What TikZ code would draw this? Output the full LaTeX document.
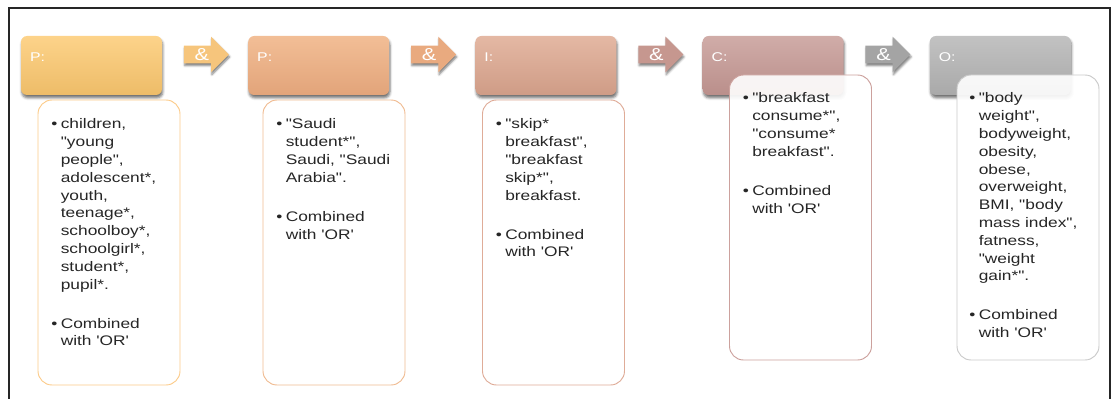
\documentclass[tikz,border=0pt]{standalone}
\usepackage{fontspec}
\newfontfamily\arialf[FakeStretch=1.25]{Liberation Sans}
\usetikzlibrary{positioning,shapes.arrows,shadows.blur}

\definecolor{pAtop}{HTML}{FDD38A}\definecolor{pAbot}{HTML}{EDBC68}
\definecolor{pBtop}{HTML}{F2BE96}\definecolor{pBbot}{HTML}{E2A47A}
\definecolor{iTop}{HTML}{E4B8A4}\definecolor{iBot}{HTML}{CF9C86}
\definecolor{cTop}{HTML}{D0ACA8}\definecolor{cBot}{HTML}{BA8F8B}
\definecolor{oTop}{HTML}{C2C2C2}\definecolor{oBot}{HTML}{A9A9A9}
\definecolor{ampA}{HTML}{F6C57C}\definecolor{ampB}{HTML}{E9AA7F}
\definecolor{ampC}{HTML}{C6978F}\definecolor{ampD}{HTML}{A4A4A4}
\definecolor{lineA}{HTML}{FCCB89}\definecolor{lineB}{HTML}{F0BB91}
\definecolor{lineC}{HTML}{DFAC98}\definecolor{lineD}{HTML}{CCA19D}
\definecolor{lineE}{HTML}{CACACA}
\definecolor{frame}{HTML}{262626}

\begin{document}
\begin{tikzpicture}[x=0.75pt, y=-0.75pt,
    hdr/.style={rectangle, rounded corners=4.5pt, minimum width=105.75pt, minimum height=44.25pt,
      inner xsep=6.75pt, inner ysep=0pt, text width=92.25pt, align=left, text height=7pt, text depth=13.5pt,
      text=white, font=\arialf\fontsize{9.5pt}{11pt}\selectfont,
      blur shadow={shadow xshift=0.6pt, shadow yshift=-2.2pt, shadow blur radius=1.8pt, shadow opacity=55}},
    amp/.style={single arrow, single arrow head extend=6.75pt, minimum height=33.75pt,
      inner xsep=2pt, inner ysep=1.4pt, text height=9.5pt, text depth=0.5pt,
      text=white, font=\arialf\fontsize{13pt}{14pt}\selectfont,
      blur shadow={shadow xshift=0.6pt, shadow yshift=-1.8pt, shadow blur radius=1.5pt, shadow opacity=50}},
    listbox/.style={rectangle, rounded corners=10.5pt, draw, line width=0.7pt, fill=white,
      minimum width=106.5pt, minimum height=213.75pt},
    listtext/.style={anchor=north west, inner sep=0pt, align=left, text=black!85,
      font=\arialf\fontsize{10.4pt}{13.35pt}\selectfont}]
  \useasboundingbox (0,0) rectangle (1114,399);
  \draw[line width=1.1pt, frame] (9,399) -- (9,8) -- (1110,8) -- (1110,399);

  \node[hdr, top color=pAtop, bottom color=pAbot] (p1) at (91.5,65.5) {P:};
  \node[hdr, top color=pBtop, bottom color=pBbot] (p2) [right=64.25pt of p1] {P:};
  \node[hdr, top color=iTop, bottom color=iBot] (int) [right=64.25pt of p2] {I:};
  \node[hdr, top color=cTop, bottom color=cBot] (comp) [right=64.25pt of int] {C:};
  \node[hdr, top color=oTop, bottom color=oBot] (out) [right=64.25pt of comp] {O:};

  \node[amp, fill=ampA] (and1) [right=16pt of p1, yshift=8.25pt] {\&};
  \node[amp, fill=ampB] (and2) [right=16pt of p2, yshift=8.25pt] {\&};
  \node[amp, fill=ampC] (and3) [right=16pt of int, yshift=8.25pt] {\&};
  \node[amp, fill=ampD] (and4) [right=16pt of comp, yshift=8.25pt] {\&};

  \node[listbox, draw=lineA] (b1) at (109,242.5) {};
  \node[listbox, draw=lineB] (b2) at (334,242.5) {};
  \node[listbox, draw=lineC] (b3) at (553.5,242.5) {};
  \node[listbox, draw=lineD, fill opacity=0.9] (b4) at (800.5,217.5) {};
  \node[listbox, draw=lineE, fill opacity=0.9] (b5) at (1028,217.5) {};

  \node[listtext] (t1) at ([xshift=17.25pt, yshift=-14.25pt]b1.north west)
    {\llap{•\hspace{2.5pt}}children,\\ "young\\ people",\\ adolescent*,\\ youth,\\ teenage*,\\ schoolboy*,\\
     schoolgirl*,\\ student*,\\ pupil*.\\[16pt] \llap{•\hspace{2.5pt}}Combined\\ with 'OR'};
  \node[listtext] (t2) at ([xshift=17.25pt, yshift=-14.25pt]b2.north west)
    {\llap{•\hspace{2.5pt}}"Saudi\\ student*",\\ Saudi, "Saudi\\ Arabia".\\[16pt] \llap{•\hspace{2.5pt}}Combined\\ with 'OR'};
  \node[listtext] (t3) at ([xshift=17.25pt, yshift=-14.25pt]b3.north west)
    {\llap{•\hspace{2.5pt}}"skip*\\ breakfast",\\ "breakfast\\ skip*",\\ breakfast.\\[16pt] \llap{•\hspace{2.5pt}}Combined\\ with 'OR'};
  \node[listtext] (t4) at ([xshift=17.25pt, yshift=-13.5pt]b4.north west)
    {\llap{•\hspace{2.5pt}}"breakfast\\ consume*",\\ "consume*\\ breakfast".\\[16pt] \llap{•\hspace{2.5pt}}Combined\\ with 'OR'};
  \node[listtext] (t5) at ([xshift=16.5pt, yshift=-13.5pt]b5.north west)
    {\llap{•\hspace{2.5pt}}"body\\ weight",\\ bodyweight,\\ obesity,\\ obese,\\ overweight,\\ BMI, "body\\
     mass index",\\ fatness,\\ "weight\\ gain*".\\[16pt] \llap{•\hspace{2.5pt}}Combined\\ with 'OR'};
\end{tikzpicture}
\end{document}
